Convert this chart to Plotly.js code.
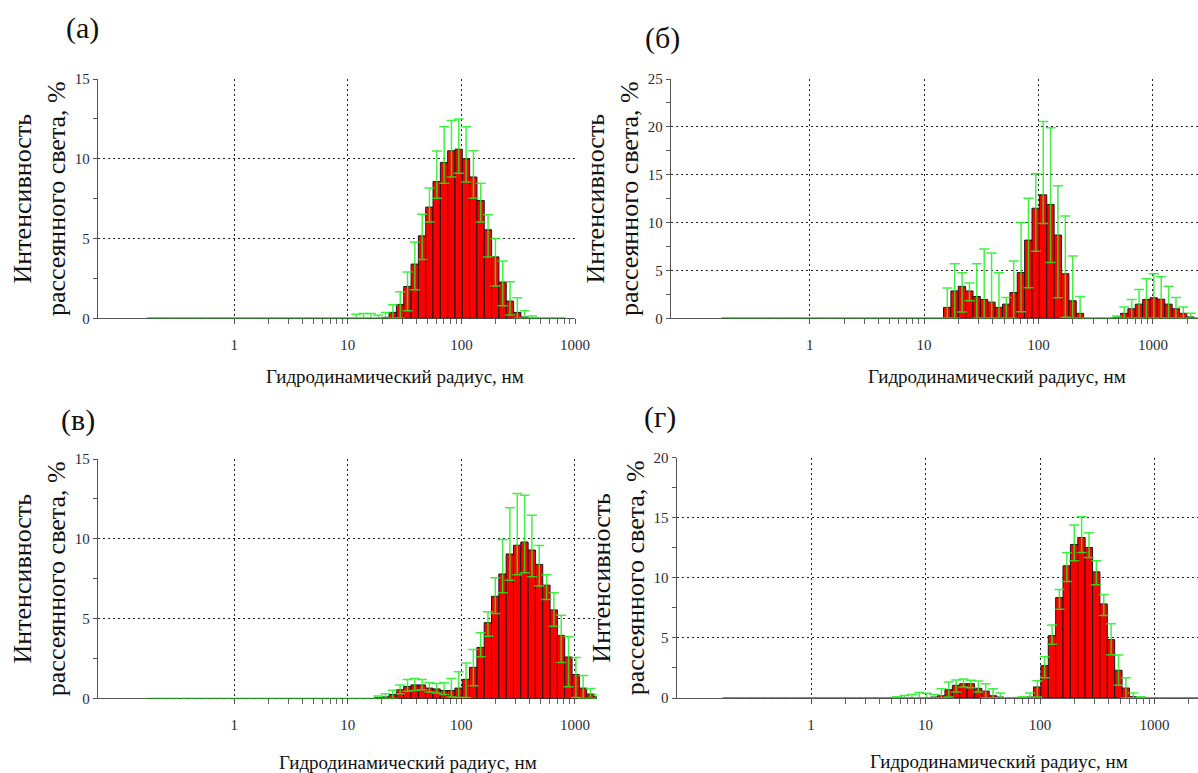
<!DOCTYPE html>
<html>
<head>
<meta charset="utf-8">
<script src="https://cdn.plot.ly/plotly-3.0.1.min.js"></script>
<style>
  html, body { margin: 0; padding: 0; background: #ffffff; }
  #chart { width: 1198px; height: 773px; }
</style>
</head>
<body>
<div id="chart"></div>
<script>
// ---------- DATA ----------
// Common size bins: hydrodynamic radius, nm (bin centres)
const radiusBins = [
  0.185, 0.215, 0.250, 0.289, 0.336, 0.390, 0.452, 0.524, 0.608, 0.705,
  0.818, 0.949, 1.101, 1.277, 1.481, 1.718, 1.993, 2.312, 2.682, 3.111,
  3.609, 4.186, 4.856, 5.633, 6.534, 7.580, 8.793, 10.20, 11.83, 13.72,
  15.92, 18.47, 21.42, 24.85, 28.83, 33.44, 38.79, 45.00, 52.19, 60.55,
  70.23, 81.47, 94.50, 109.6, 127.2, 147.5, 171.1, 198.5, 230.3, 267.1,
  309.8, 359.4, 416.9, 483.6, 561.0, 650.8, 754.9, 875.7, 1015.8, 1178.3,
  1366.8, 1585.5, 1839.2, 2133.5, 2474.8, 2870.8
];

// Panel (а): intensity, % and error bar extents
const intensityA = [
  0,0,0,0,0,0,0,0,0,0,
  0,0,0,0,0,0,0,0,0,0,
  0,0,0,0,0,0,0,0,0,0,
  0, 0, 0.06, 0.37, 0.87, 2.0, 3.4, 5.17, 6.97, 8.57,
  9.77, 10.5, 10.6, 10.0, 8.86, 7.38, 5.55, 3.85, 2.27, 1.08,
  0.37, 0.08, 0, 0, 0, 0, 0
];
const errPlusA = [
  0,0,0,0,0,0,0,0,0,0,
  0,0,0,0,0,0,0,0,0,0,
  0,0,0,0,0,0,0,0, 0.25, 0.3,
  0.3, 0.2, 0.31, 0.48, 0.79, 0.9, 1.38, 1.36, 1.2, 1.91,
  2.23, 1.9, 1.9, 2.0, 1.64, 1.08, 0.94, 1.15, 1.33, 1.21,
  0.92, 0.4, 0.15, 0, 0, 0, 0
];
const errMinusA = [
  0,0,0,0,0,0,0,0,0,0,
  0,0,0,0,0,0,0,0,0,0,
  0,0,0,0,0,0,0,0,0,0,
  0, 0, 0.06, 0.37, 0.87, 1.52, 1.61, 1.49, 0.94, 1.04,
  1.31, 1.64, 1.5, 1.46, 1.33, 1.35, 1.7, 1.83, 1.48, 0.87,
  0.37, 0.08, 0, 0, 0, 0, 0
];

// Panel (б)
const intensityB = [
  0,0,0,0,0,0,0,0,0,0,
  0,0,0,0,0,0,0,0,0,0,
  0,0,0,0,0,0,0,0,0,0,
  1.14, 2.86, 3.34, 2.86, 2.28, 1.97, 1.69, 1.14, 1.48, 2.69,
  4.79, 8.17, 11.5, 12.9, 11.9, 8.7, 4.66, 1.83, 0.52, 0,
  0, 0, 0, 0.1, 0.52, 1.0, 1.48, 1.97, 2.14, 2.0,
  1.48, 1.0, 0.52, 0.14, 0
];
const errPlusB = [
  0,0,0,0,0,0,0,0,0,0,
  0,0,0,0,0,0,0,0,0,0,
  0,0,0,0,0,0,0,0,0,0,
  2.03, 2.83, 1.42, 0.83, 3.41, 5.27, 5.14, 3.62, 0.69, 3.31,
  5.21, 4.38, 3.6, 7.65, 8.0, 5.16, 6.03, 4.69, 1.76, 0,
  0, 0, 0, 0.14, 0.65, 0.97, 1.52, 2.17, 2.52, 2.34,
  1.86, 1.17, 0.65, 0.38, 0
];
const errMinusB = [
  0,0,0,0,0,0,0,0,0,0,
  0,0,0,0,0,0,0,0,0,0,
  0,0,0,0,0,0,0,0,0,0,
  1.14, 2.86, 2.68, 1.03, 2.28, 1.97, 1.69, 1.14, 1.48, 2.69,
  4.1, 4.97, 4.5, 3.0, 6.07, 6.56, 4.56, 1.83, 0.52, 0,
  0, 0, 0, 0.1, 0.52, 1.0, 1.48, 1.97, 2.14, 2.0,
  1.48, 1.0, 0.52, 0.14, 0
];

// Panel (в)
const intensityV = [
  0,0,0,0,0,0,0,0,0,0,
  0,0,0,0,0,0,0,0,0,0,
  0,0,0,0,0,0,0,0,0,0,
  0, 0.05, 0.1, 0.25, 0.55, 0.75, 0.85, 0.85, 0.65, 0.6,
  0.5, 0.5, 0.65, 1.2, 1.95, 3.2, 4.75, 6.4, 7.8, 9.05,
  9.6, 9.8, 9.3, 8.4, 7.1, 5.55, 3.95, 2.6, 1.5, 0.65,
  0.28, 0.1, 0, 0, 0, 0
];
const errPlusV = [
  0,0,0,0,0,0,0,0,0,0,
  0,0,0,0,0,0,0,0,0,0,
  0,0,0,0,0,0,0,0,0,0,
  0, 0.1, 0.2, 0.27, 0.29, 0.44, 0.4, 0.34, 0.33, 0.34,
  0.48, 0.75, 1.02, 1.03, 1.12, 0.91, 0.68, 1.16, 2.16, 2.89,
  3.24, 2.93, 2.18, 1.18, 0.65, 1.07, 1.27, 1.26, 1.07, 0.79,
  0.35, 0.15, 0, 0, 0, 0
];
const errMinusV = [
  0,0,0,0,0,0,0,0,0,0,
  0,0,0,0,0,0,0,0,0,0,
  0,0,0,0,0,0,0,0,0,0,
  0, 0.05, 0.1, 0.25, 0.25, 0.3, 0.35, 0.3, 0.25, 0.25,
  0.25, 0.4, 0.59, 1.14, 1.16, 0.59, 0.85, 1.08, 1.18, 1.64,
  1.85, 1.93, 1.68, 1.36, 0.9, 1.02, 1.7, 1.87, 1.44, 0.65,
  0.28, 0.1, 0, 0, 0, 0
];

// Panel (г)
const intensityG = [
  0,0,0,0,0,0,0,0,0,0,
  0,0,0,0,0,0,0,0,0,0,
  0,0,0,0,0,0,0,0, 0.08, 0.19,
  0.69, 1.06, 1.19, 1.19, 0.81, 0.58, 0.19, 0.08, 0, 0,
  0, 0.08, 0.92, 2.69, 5.19, 8.36, 11.0, 12.78, 13.36, 12.53,
  10.5, 7.83, 4.86, 2.31, 0.83, 0.11, 0, 0, 0, 0,
  0, 0, 0, 0, 0
];
const errPlusG = [
  0,0,0,0,0,0,0,0,0,0,
  0,0,0,0,0,0,0,0,0,0,
  0, 0, 0, 0.1, 0.2, 0.3, 0.45, 0.4, 0.22, 0.59,
  0.64, 0.44, 0.39, 0.28, 0.61, 0.61, 0.59, 0.34, 0, 0,
  0.1, 0.34, 0.52, 0.75, 0.89, 0.67, 1.08, 1.61, 1.72, 1.22,
  0.92, 0.78, 1.33, 1.27, 0.86, 0.31, 0.1, 0, 0, 0,
  0, 0, 0, 0, 0
];
const errMinusG = [
  0,0,0,0,0,0,0,0,0,0,
  0,0,0,0,0,0,0,0,0,0,
  0,0,0,0,0,0,0,0, 0.08, 0.19,
  0.61, 0.56, 0.27, 0.33, 0.31, 0.58, 0.19, 0.08, 0, 0,
  0, 0.08, 0.84, 1.0, 0.72, 0.97, 1.31, 1.36, 1.25, 0.84,
  1.08, 0.97, 1.25, 1.25, 0.83, 0.11, 0, 0, 0, 0,
  0, 0, 0, 0, 0
];

// Texts and tick labels
const panelLabels = ['(а)', '(б)', '(в)', '(г)'];
const xTitleText = 'Гидродинамический радиус, нм';
const yTitleText = 'Интенсивность<br>рассеянного света, %';
const xTickVals = [1, 10, 100, 1000];
const xTickText = ['1', '10', '100', '1000'];
const xMinorTickVals = [2,3,4,5,6,7,8,9, 20,30,40,50,60,70,80,90, 200,300,400,500,600,700,800,900, 2000,3000];
const yMax = [15, 25, 15, 20];

// ---------- BUILD ----------
function binGeometry(n) {
  const c = radiusBins;
  const x = [], offset = [], width = [];
  for (let i = 0; i < n; i++) {
    const left = i > 0 ? Math.sqrt(c[i - 1] * c[i]) : c[i] * Math.sqrt(c[i] / c[i + 1]);
    const right = i < c.length - 1 ? Math.sqrt(c[i] * c[i + 1]) : c[i] * Math.sqrt(c[i] / c[i - 1]);
    x.push(c[i]);
    offset.push(left - c[i]);
    width.push(right - left);
  }
  return { x, offset, width };
}

function histTrace(values, plus, minus, xa, ya, clip) {
  const g = binGeometry(values.length);
  return {
    type: 'bar',
    x: g.x, y: values,
    offset: g.offset, width: g.width,
    xaxis: xa, yaxis: ya,
    cliponaxis: clip,
    marker: { color: '#ff0000', line: { color: '#1a1a1a', width: 1 } },
    error_y: {
      type: 'data', symmetric: false,
      array: plus, arrayminus: minus,
      color: 'rgba(30,238,30,0.85)', thickness: 1.5, width: 5
    },
    hoverinfo: 'skip',
    showlegend: false
  };
}

const serif = '"Liberation Serif", "Times New Roman", "DejaVu Serif", serif';
const tickFont = { family: serif, size: 15, color: '#2b2b38' };

function xAxis(domain, range, anchor) {
  return {
    type: 'log', domain: domain, range: range, anchor: anchor,
    layer: 'below traces',
    showline: true, linecolor: '#555', linewidth: 1,
    ticks: 'outside', ticklen: 5, tickcolor: '#555',
    tickmode: 'array', tickvals: xTickVals, ticktext: xTickText,
    ticklabelstandoff: 8,
    showgrid: true, gridcolor: '#222', griddash: '2px,3px', gridwidth: 1,
    zeroline: false, tickfont: tickFont,
    minor: { tickmode: 'array', tickvals: xMinorTickVals, ticks: 'outside', ticklen: 5, tickcolor: '#666', showgrid: false },
    fixedrange: true
  };
}

function yAxis(domain, max, anchor) {
  return {
    domain: domain, range: [0, max], anchor: anchor,
    showline: true, linecolor: '#555', linewidth: 1,
    ticks: 'outside', ticklen: 4, tickcolor: '#555',
    tick0: 0, dtick: 5,
    showgrid: true, gridcolor: '#222', griddash: '2px,3px', gridwidth: 1,
    zeroline: false, tickfont: tickFont,
    minor: { dtick: 2.5, ticks: 'outside', ticklen: 4, tickcolor: '#555', showgrid: false },
    title: { text: yTitleText, font: { family: serif, size: 26, color: '#111' }, standoff: 1 },
    fixedrange: true
  };
}

const data = [
  histTrace(intensityA, errPlusA, errMinusA, 'x', 'y', true),
  histTrace(intensityB, errPlusB, errMinusB, 'x2', 'y2', true),
  histTrace(intensityV, errPlusV, errMinusV, 'x3', 'y3', false),
  histTrace(intensityG, errPlusG, errMinusG, 'x4', 'y4', true)
];

function label(text, x, y, size) {
  return { text: text, xref: 'paper', yref: 'paper', x: x, y: y,
           xanchor: 'center', yanchor: 'middle', showarrow: false,
           font: { family: serif, size: size, color: '#111' } };
}

const layout = {
  width: 1198, height: 773,
  margin: { l: 0, r: 0, t: 0, b: 0 },
  paper_bgcolor: '#ffffff', plot_bgcolor: '#ffffff',
  font: { family: serif },
  showlegend: false,
  xaxis:  xAxis([0.0815, 0.4801], [-1.2025, 3.001], 'y'),
  yaxis:  yAxis([0.5882, 0.8978], yMax[0], 'x'),
  xaxis2: xAxis([0.5599, 1.0], [-1.214, 3.394], 'y2'),
  yaxis2: yAxis([0.5882, 0.8978], yMax[1], 'x2'),
  xaxis3: xAxis([0.0815, 0.4983], [-1.2025, 3.194], 'y3'),
  yaxis3: yAxis([0.0964, 0.4062], yMax[2], 'x3'),
  xaxis4: xAxis([0.5647, 1.0], [-1.175, 3.38], 'y4'),
  yaxis4: yAxis([0.0970, 0.4079], yMax[3], 'x4'),
  annotations: [
    label(panelLabels[0], 0.0685, 0.9638, 30),
    label(panelLabels[1], 0.5526, 0.9509, 30),
    label(panelLabels[2], 0.0647, 0.4567, 30),
    label(panelLabels[3], 0.5509, 0.4605, 30),
    label(xTitleText, 0.3301, 0.5123, 19),
    label(xTitleText, 0.8320, 0.5123, 19),
    label(xTitleText, 0.3406, 0.0142, 19),
    label(xTitleText, 0.8337, 0.0155, 19)
  ]
};

Plotly.newPlot('chart', data, layout, { staticPlot: true, displayModeBar: false });
</script>
</body>
</html>
